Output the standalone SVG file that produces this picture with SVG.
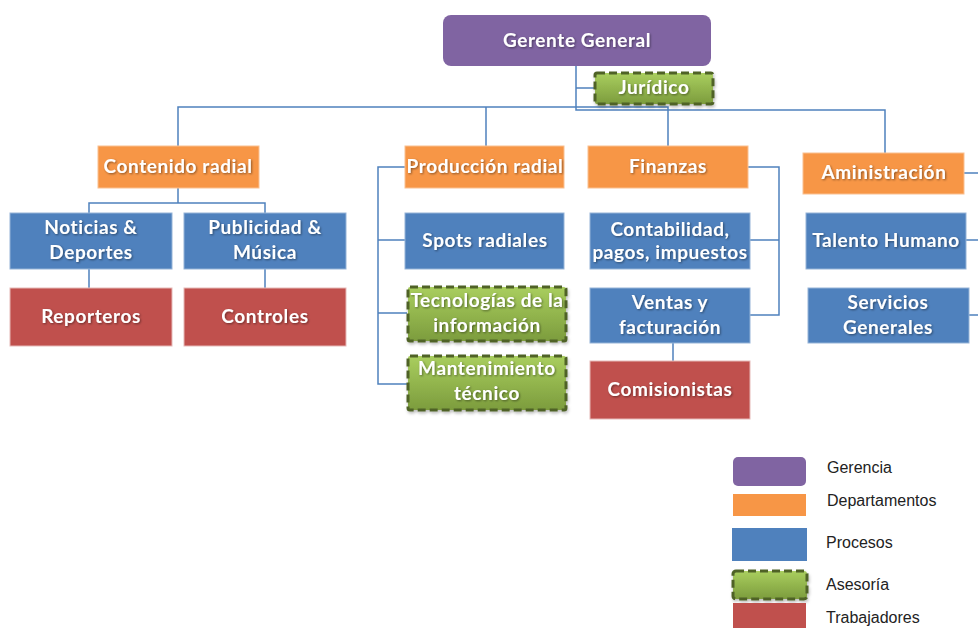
<svg xmlns="http://www.w3.org/2000/svg" width="978" height="628" viewBox="0 0 978 628">
<defs>
<linearGradient id="gr" x1="0" y1="0" x2="0" y2="1">
<stop offset="0" stop-color="#A9CE5E"/>
<stop offset="1" stop-color="#7C9C3D"/>
</linearGradient>
<filter id="ts" x="-10%" y="-30%" width="120%" height="160%">
<feDropShadow dx="1" dy="1" stdDeviation="0.8" flood-color="#000" flood-opacity="0.45"/>
</filter>
<filter id="bs" x="-10%" y="-20%" width="120%" height="150%">
<feDropShadow dx="1" dy="2" stdDeviation="1.5" flood-color="#000" flood-opacity="0.25"/>
</filter>
</defs>
<style>
.t{font-family:Lato,"Open Sans","Liberation Sans",sans-serif;font-weight:bold;font-size:19px;letter-spacing:0.6px;fill:#fff;text-anchor:middle;filter:url(#ts)}
.g{fill:#8064A2}
.o{fill:#F79646;stroke:#FAC090;stroke-width:1}
.b{fill:#4F81BD;stroke:#95B3D7;stroke-width:1}
.r{fill:#C0504D;stroke:#E6B9B8;stroke-width:1}
.a{fill:url(#gr);stroke:#4F6228;stroke-width:3;stroke-dasharray:8 4;filter:url(#bs)}
.c{fill:none;stroke:#4F81BD;stroke-width:1.5}
.l{font-family:"Liberation Sans",Arial,sans-serif;font-size:16px;fill:#222}
</style>
<rect width="978" height="628" fill="#fff"/>
<g id="connectors">
<path class="c" d="M576 66V110H885V153"/>
<path class="c" d="M576 88H594"/>
<path class="c" d="M178 146V107H668V146"/>
<path class="c" d="M486 107V146"/>
<path class="c" d="M178 188V203H89V213M178 203H265V213"/>
<path class="c" d="M89 269V288M265 269V288"/>
<path class="c" d="M405 167H378V384H407M378 240H405M378 313H407"/>
<path class="c" d="M748 167H779V315H750M779 240H750"/>
<path class="c" d="M673 343V361"/>
<path class="c" d="M964 173H978M966 240H978M969 315H978"/>
</g>
<g id="gerente"><rect class="g" x="443" y="15" width="268" height="51" rx="8"/><text class="t" x="577" y="47">Gerente General</text></g>
<g id="juridico"><rect class="a" x="595" y="73" width="118" height="31" rx="2"/><text class="t" x="654" y="94">Jurídico</text></g>
<g id="contenido"><rect class="o" x="98" y="146" width="161" height="42"/><text class="t" x="178" y="173">Contenido radial</text></g>
<g id="produccion"><rect class="o" x="405" y="146" width="159" height="42"/><text class="t" x="485" y="173">Producción radial</text></g>
<g id="finanzas"><rect class="o" x="588" y="146" width="160" height="42"/><text class="t" x="668" y="173">Finanzas</text></g>
<g id="administracion"><rect class="o" x="803" y="153" width="161" height="41"/><text class="t" x="884" y="179">Aministración</text></g>
<g id="noticias"><rect class="b" x="10" y="213" width="162" height="56"/><text class="t" x="91" y="234">Noticias &amp;</text><text class="t" x="91" y="259">Deportes</text></g>
<g id="publicidad"><rect class="b" x="184" y="213" width="162" height="56"/><text class="t" x="265" y="234">Publicidad &amp;</text><text class="t" x="265" y="259">Música</text></g>
<g id="reporteros"><rect class="r" x="10" y="288" width="162" height="58"/><text class="t" x="91" y="323">Reporteros</text></g>
<g id="controles"><rect class="r" x="184" y="288" width="162" height="58"/><text class="t" x="265" y="323">Controles</text></g>
<g id="spots"><rect class="b" x="405" y="213" width="159" height="56"/><text class="t" x="485" y="247">Spots radiales</text></g>
<g id="tecnologias"><rect class="a" x="408" y="287" width="158" height="54" rx="2"/><text class="t" x="487" y="307">Tecnologías de la</text><text class="t" x="487" y="332">información</text></g>
<g id="mantenimiento"><rect class="a" x="408" y="356" width="158" height="54" rx="2"/><text class="t" x="487" y="375">Mantenimiento</text><text class="t" x="487" y="400">técnico</text></g>
<g id="contabilidad"><rect class="b" x="590" y="213" width="160" height="56"/><text class="t" x="670" y="236">Contabilidad,</text><text class="t" x="670" y="259">pagos, impuestos</text></g>
<g id="ventas"><rect class="b" x="590" y="288" width="160" height="55"/><text class="t" x="670" y="309">Ventas y</text><text class="t" x="670" y="334">facturación</text></g>
<g id="comisionistas"><rect class="r" x="590" y="361" width="160" height="58"/><text class="t" x="670" y="396">Comisionistas</text></g>
<g id="talento"><rect class="b" x="806" y="213" width="160" height="56"/><text class="t" x="886" y="247">Talento Humano</text></g>
<g id="servicios"><rect class="b" x="808" y="288" width="161" height="55"/><text class="t" x="888" y="309">Servicios</text><text class="t" x="888" y="334">Generales</text></g>
<g id="legend">
<rect class="g" x="733" y="457" width="73" height="29" rx="5"/><text class="l" x="827" y="473">Gerencia</text>
<rect fill="#F79646" x="733" y="494" width="73" height="22"/><text class="l" x="827" y="506">Departamentos</text>
<rect fill="#4F81BD" x="732" y="528" width="75" height="33"/><text class="l" x="826" y="548">Procesos</text>
<rect class="a" x="733" y="571" width="74" height="28" rx="3"/><text class="l" x="826" y="590">Asesoría</text>
<rect fill="#C0504D" x="733" y="603" width="73" height="30"/><text class="l" x="826" y="623">Trabajadores</text>
</g>
</svg>
